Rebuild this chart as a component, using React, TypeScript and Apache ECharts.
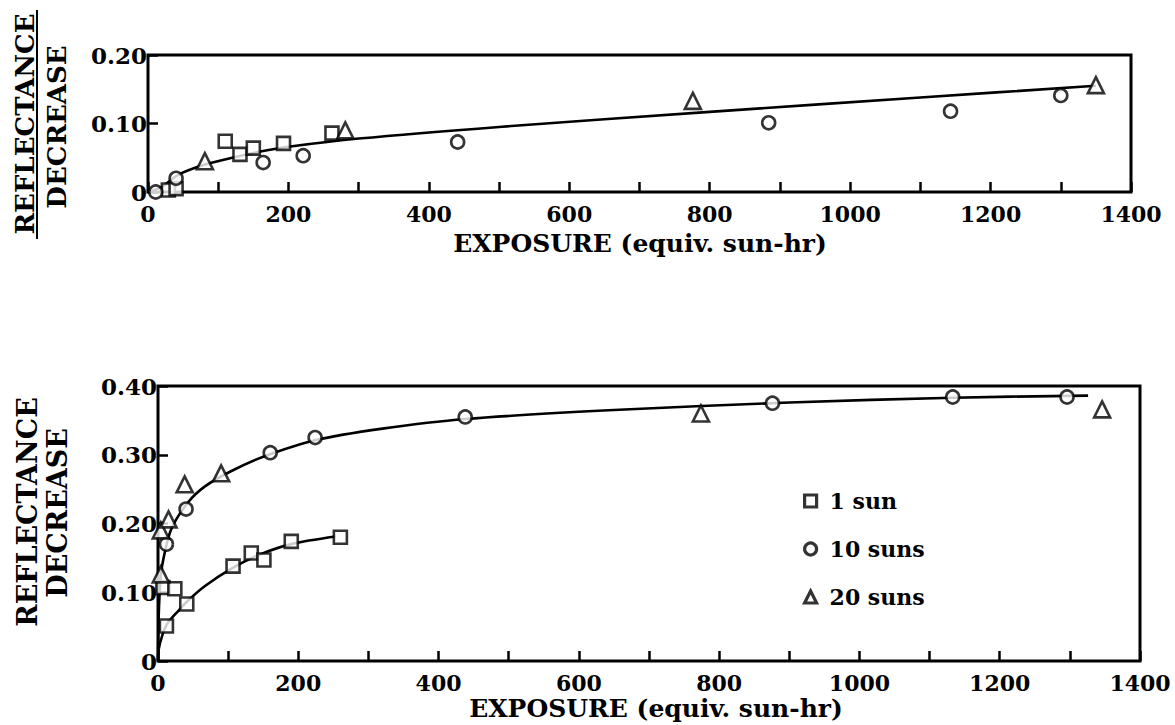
import React, { useEffect, useRef } from "react";
import * as echarts from "echarts";

// Exposure axis ticks (equiv. sun-hr)
const exposureTicks = [0, 200, 400, 600, 800, 1000, 1200, 1400];

// Upper panel: measured points [exposure, reflectance decrease]
const upperOneSun = [
  [29, 0.003], [40, 0.005], [110, 0.074], [131, 0.055], [150, 0.064], [193, 0.071], [262, 0.086],
];
const upperTenSuns = [
  [11, 0.0], [40, 0.02], [164, 0.043], [221, 0.053], [441, 0.073], [884, 0.101], [1143, 0.118], [1300, 0.141],
];
const upperTwentySuns = [
  [81, 0.045], [281, 0.09], [776, 0.133], [1350, 0.156],
];
// Upper panel: fitted curve through all points
const upperFit = [
  [0, 0], [19, 0.007], [43, 0.025], [81, 0.04], [120, 0.05], [160, 0.059], [200, 0.066],
  [300, 0.078], [500, 0.095], [800, 0.117], [1100, 0.138], [1350, 0.155],
];

// Lower panel: measured points
const lowerOneSun = [
  [12, 0.051], [7, 0.107], [24, 0.105], [41, 0.083], [107, 0.138], [133, 0.157], [151, 0.147], [190, 0.174], [260, 0.18],
];
const lowerTenSuns = [
  [12, 0.17], [40, 0.221], [160, 0.303], [224, 0.325], [438, 0.355], [876, 0.375], [1133, 0.384], [1296, 0.384],
];
const lowerTwentySuns = [
  [4, 0.126], [4, 0.19], [15, 0.206], [38, 0.257], [90, 0.273], [774, 0.36], [1346, 0.366],
];
// Lower panel: fitted curves
const lowerFitOneSun = [
  [0, 0], [1, 0.017], [6, 0.037], [13, 0.054], [29, 0.073], [43, 0.088], [67, 0.109],
  [104, 0.134], [143, 0.154], [190, 0.17], [253, 0.181],
];
const lowerFitHighSuns = [
  [0, 0], [0.5, 0.04], [1.5, 0.08], [4, 0.124], [8, 0.15], [19, 0.192], [43, 0.231], [67, 0.254],
  [104, 0.276], [150, 0.297], [224, 0.321], [320, 0.338], [438, 0.352], [650, 0.365],
  [900, 0.376], [1133, 0.383], [1326, 0.386],
];

const seriesNames = ["1 sun", "10 suns", "20 suns"];

const FONT = "'DejaVu Serif', 'Liberation Serif', serif";
const INK = "#000";

const markerStyle = { color: "#fff", borderColor: INK, borderWidth: 2.6 };

function scatter(name: string, symbol: string, size: number, idx: number, data: number[][]) {
  return {
    type: "scatter",
    name,
    xAxisIndex: idx,
    yAxisIndex: idx,
    symbol,
    symbolSize: size,
    itemStyle: markerStyle,
    data,
    clip: false,
    z: 4,
  };
}

function fit(idx: number, data: number[][]) {
  return {
    type: "line",
    xAxisIndex: idx,
    yAxisIndex: idx,
    data,
    symbol: "none",
    showSymbol: false,
    smooth: 0.3,
    lineStyle: { color: INK, width: 2.6 },
    silent: true,
    z: 3,
  };
}

function xAxisFor(idx: number) {
  return {
    gridIndex: idx,
    type: "value",
    min: 0,
    max: 1400,
    interval: 100,
    axisLine: { show: false },
    axisTick: { inside: true, length: 10, lineStyle: { color: INK, width: 2.5 } },
    splitLine: { show: false },
    axisLabel: {
      color: INK,
      fontFamily: FONT,
      fontWeight: "bold",
      fontSize: 22,
      lineHeight: 18,
      margin: 13,
      formatter: (v: number) => (exposureTicks.includes(v) ? String(v) : ""),
    },
  };
}

function yAxisFor(idx: number, max: number) {
  return {
    gridIndex: idx,
    type: "value",
    min: 0,
    max,
    interval: 0.1,
    axisLine: { show: false },
    axisTick: { inside: true, length: 10, lineStyle: { color: INK, width: 2.5 } },
    splitLine: { show: false },
    axisLabel: {
      color: INK,
      fontFamily: FONT,
      fontWeight: "bold",
      fontSize: 23,
      lineHeight: 16,
      padding: [0, 0, 5, 0],
      margin: 1,
      formatter: (v: number) => (v === 0 ? "0" : v.toFixed(2)),
    },
  };
}

function verticalText(text: string, x: number, y: number, size: number) {
  return {
    type: "text",
    x,
    y,
    rotation: Math.PI / 2,
    style: {
      text,
      fill: INK,
      font: `bold ${size}px ${FONT}`,
      align: "center",
      verticalAlign: "middle",
    },
  };
}

function horizontalText(text: string, x: number, y: number, size: number) {
  return {
    type: "text",
    x,
    y,
    style: {
      text,
      fill: INK,
      font: `bold ${size}px ${FONT}`,
      align: "center",
      verticalAlign: "middle",
    },
  };
}

export default function App() {
  const ref = useRef<HTMLDivElement>(null);

  useEffect(() => {
    if (!ref.current) return;
    const chart = echarts.init(ref.current, undefined, { renderer: "svg" });
    chart.setOption({
      animation: false,
      backgroundColor: "#fff",
      grid: [
        { left: 148, top: 55, width: 983, height: 137, show: true, borderColor: INK, borderWidth: 3, backgroundColor: "transparent" },
        { left: 158, top: 386, width: 982, height: 275, show: true, borderColor: INK, borderWidth: 3, backgroundColor: "transparent" },
      ],
      xAxis: [xAxisFor(0), xAxisFor(1)],
      yAxis: [yAxisFor(0, 0.2), yAxisFor(1, 0.4)],
      legend: {
        orient: "vertical",
        left: 798,
        top: 484,
        itemWidth: 12,
        itemHeight: 12,
        itemGap: 24,
        selectedMode: false,
        textStyle: { color: INK, fontFamily: FONT, fontWeight: "bold", fontSize: 22, lineHeight: 24, padding: [0, 0, 0, 8] },
        data: seriesNames.map((name, i) => ({
          name,
          icon: ["rect", "circle", "triangle"][i],
          itemStyle: { color: "#fff", borderColor: INK, borderWidth: 3.2 },
        })),
      },
      graphic: [
        verticalText("REFLECTANCE", 25, 124, 26),
        { type: "line", shape: { x1: 37, y1: 10, x2: 37, y2: 239 }, style: { stroke: INK, lineWidth: 2 } },
        verticalText("DECREASE", 57, 127, 26),
        horizontalText("EXPOSURE (equiv. sun-hr)", 640, 243, 25),
        verticalText("REFLECTANCE", 27, 512, 27),
        verticalText("DECREASE", 57, 513, 27),
        horizontalText("EXPOSURE (equiv. sun-hr)", 656, 708, 25),
      ],
      series: [
        fit(0, upperFit),
        scatter(seriesNames[0], "rect", 13, 0, upperOneSun),
        scatter(seriesNames[1], "circle", 13, 0, upperTenSuns),
        scatter(seriesNames[2], "triangle", 16, 0, upperTwentySuns),
        fit(1, lowerFitOneSun),
        fit(1, lowerFitHighSuns),
        scatter(seriesNames[0], "rect", 13, 1, lowerOneSun),
        scatter(seriesNames[1], "circle", 13, 1, lowerTenSuns),
        scatter(seriesNames[2], "triangle", 16, 1, lowerTwentySuns),
      ],
    });
    return () => chart.dispose();
  }, []);

  return (
    <div
      ref={ref}
      style={{ position: "fixed", left: 0, top: 0, width: 1175, height: 725, background: "#fff" }}
    />
  );
}
